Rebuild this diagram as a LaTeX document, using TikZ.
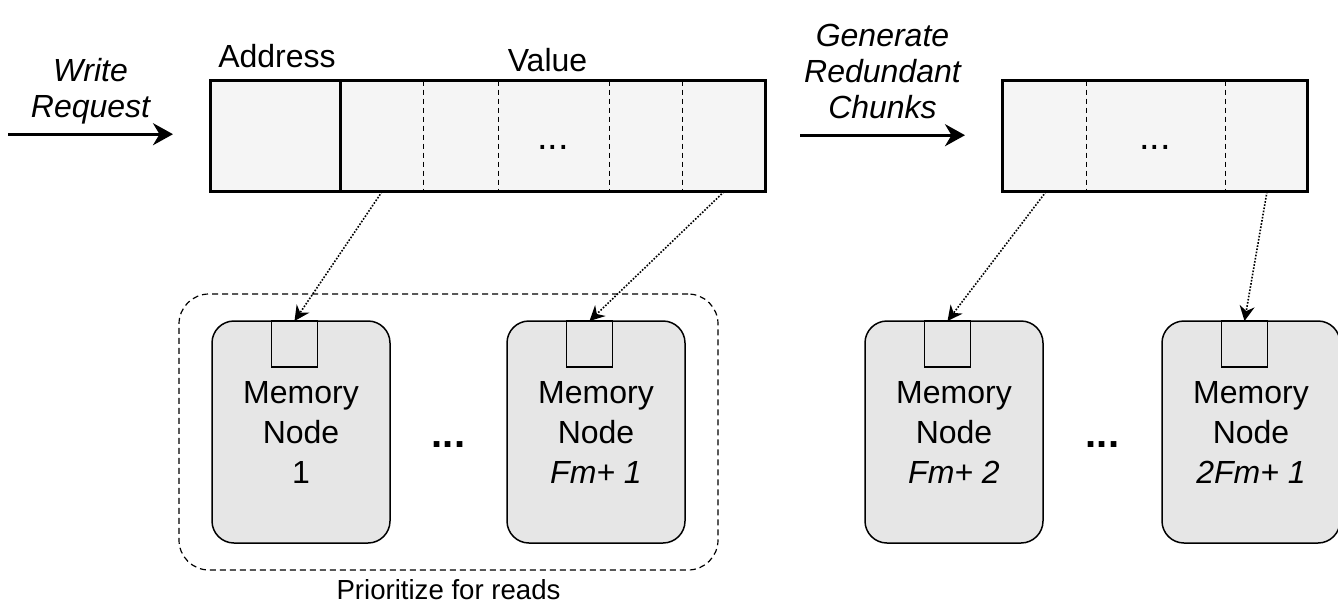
\documentclass[tikz,border=0pt]{standalone}
\usepackage{fontspec}
\setmainfont{Liberation Sans}
\setsansfont{Liberation Sans}
\usepackage{tikz}
\usetikzlibrary{positioning, arrows.meta, fit, backgrounds, calc}

\definecolor{cellgray}{HTML}{F5F5F5}
\definecolor{nodegray}{HTML}{E6E6E6}

\begin{document}
\begin{tikzpicture}[
        x=0.5pt, y=-0.5pt,
        font=\sffamily,
        >=Stealth,
        % Styles
        record/.style={draw, line width=1.5pt, fill=cellgray, minimum height=55.5pt, inner sep=0pt, outer sep=0pt},
        divider/.style={line width=0.5pt, dash pattern=on 2.5pt off 2pt},
        memnode/.style={draw, line width=0.75pt, fill=nodegray, rounded corners=11pt, minimum width=89pt, minimum height=111pt, inner sep=0pt, outer sep=0pt, align=center, font=\fontsize{16}{20}\selectfont},
        slot/.style={draw, line width=0.75pt, minimum size=23pt, inner sep=0pt, outer sep=0pt},
        flow/.style={-{Stealth[length=10pt, width=11pt]}, line width=1.5pt},
        place/.style={-{Stealth[length=7.5pt, width=7.5pt]}, line width=0.8pt, dash pattern=on 0.8pt off 0.8pt},
        lbl/.style={font=\fontsize{16}{18}\selectfont\itshape, align=center, execute at end node=\strut},
        head/.style={font=\fontsize{16}{19}\selectfont, anchor=base},
        ell/.style={font=\fontsize{19}{22}\selectfont, anchor=base},
        gap/.style={font=\fontsize{20}{24}\selectfont\bfseries, anchor=base},
        group/.style={draw, line width=0.6pt, dash pattern=on 3pt off 2pt, rounded corners=15pt, inner xsep=16.5pt, inner ysep=13.5pt}
    ]
    \useasboundingbox (0,0) rectangle (1338,605);

    % Write record (address + value) and redundant chunks
    \node[record, minimum width=65pt] (addr) at (275,136.2) {};
    \node[record, minimum width=212.5pt, right=0pt of addr] (value) {};
    \node[record, minimum width=152.5pt, right=118.5pt of value] (chunks) {};

    \foreach \dx in {83,158,269,342}
        \draw[divider] ($(value.north west)+(\dx,0)$) -- ($(value.south west)+(\dx,0)$);
    \foreach \dx in {84,223}
        \draw[divider] ($(chunks.north west)+(\dx,0)$) -- ($(chunks.south west)+(\dx,0)$);

    \node[ell] (vdots) at ($(value.west)+(213,13)$) {...};
    \node[ell] (cdots) at ($(chunks.west)+(153,13)$) {...};

    \node[head] (addrlbl) at ($(addr.north)+(2,-13)$) {Address};
    \node[head] (valuelbl) at ($(value.north)+(-5,-9)$) {Value};

    % Incoming arrows
    \coordinate[left=18.5pt of addr, yshift=1pt] (wrto);
    \coordinate[left=82.5pt of wrto] (wrfrom);
    \draw[flow] (wrfrom) -- node[lbl, above=-1pt] (wrlbl) {Write\\Request} (wrto);

    \coordinate[left=18.5pt of chunks, yshift=0.5pt] (gento);
    \coordinate[left=82.5pt of gento] (genfrom);
    \draw[flow] (genfrom) -- node[lbl, above=-1pt] (genlbl) {Generate\\Redundant\\Chunks} (gento);

    % Memory nodes (bottom row)
    \node[memnode] (mem1) at (301,432) {Memory\\Node\\1};
    \node[memnode, right=58.5pt of mem1] (mem2) {Memory\\Node\\\textit{Fm+ 1}};
    \node[memnode, right=90pt of mem2] (mem3) {Memory\\Node\\\textit{Fm+ 2}};
    \node[memnode, right=59.5pt of mem3] (mem4) {Memory\\Node\\\textit{2Fm+ 1}};

    \foreach \i in {1,...,4}
        \node[slot, below=0pt of mem\i.north, xshift=-3.25pt] (slot\i) {};

    \node[gap] (gap1) at ($(mem1)!0.5!(mem2)+(0,15)$) {...};
    \node[gap] (gap2) at ($(mem3)!0.5!(mem4)+(0,15)$) {...};

    % Chunk placement
    \coordinate (tap1) at ($(value.south west)+(42,0)$);
    \coordinate (tap2) at ($(value.south west)+(384,0)$);
    \coordinate (tap3) at ($(chunks.south west)+(44,0)$);
    \coordinate (tap4) at ($(chunks.south west)+(265,0)$);

    \draw[place] (tap1) -- (slot1.north);
    \draw[place] (tap2) -- (slot2.north);
    \draw[place] (tap3) -- (slot3.north);
    \draw[place] (tap4) -- (slot4.north);

    % Read quorum
    \begin{scope}[on background layer]
        \node[group, fit=(mem1) (mem2)] (grp) {};
    \end{scope}
    \node[font=\fontsize{13.8}{16}\selectfont, below=1pt of grp] (prio) {Prioritize for reads};

\end{tikzpicture}
\end{document}
